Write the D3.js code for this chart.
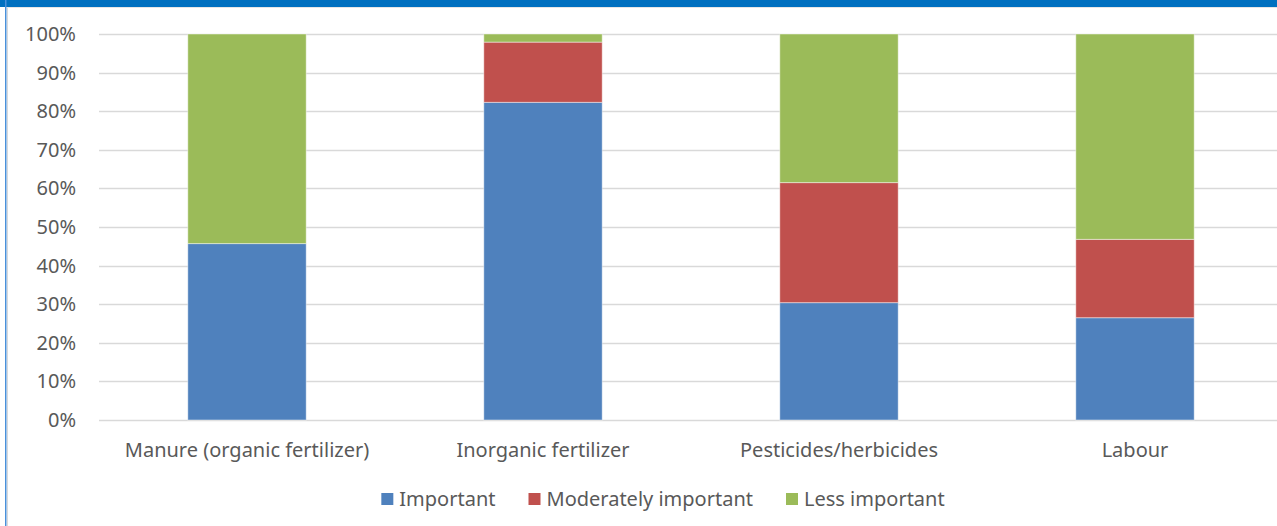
<!DOCTYPE html>
<html>
<head>
<meta charset="utf-8">
<script src="https://cdn.jsdelivr.net/npm/d3@7"></script>
<style>
  html, body { margin: 0; padding: 0; background: #fff; }
  svg { display: block; font-family: "Noto Sans", "Open Sans", sans-serif; }
</style>
</head>
<body>
<svg id="chart" width="1277" height="526"></svg>
<script>
// Stacked 100% shares of how important each input is rated
const categories = ["Manure (organic fertilizer)", "Inorganic fertilizer", "Pesticides/herbicides", "Labour"];
const seriesNames = ["Important", "Moderately important", "Less important"];
const important = [45.7, 82.3, 30.4, 26.5];
const moderatelyImportant = [0, 15.6, 31.1, 20.3];
const lessImportant = [54.3, 2.1, 38.5, 53.2];
const yTicks = [0, 10, 20, 30, 40, 50, 60, 70, 80, 90, 100];
const colors = ["#4F81BD", "#C0504D", "#9BBB59"];

const W = 1277, H = 526;
const margin = { top: 34, right: -6, bottom: 106, left: 99 };
const fontSize = "20px";
const textColor = "#595959";
const svg = d3.select("#chart");

// frame: blue band at top and thin blue rule on the left
svg.append("rect").attr("x", 0).attr("y", 0).attr("width", W).attr("height", 7).attr("fill", "#0070C0");
svg.append("rect").attr("x", 5).attr("y", 0).attr("width", 1.5).attr("height", H).attr("fill", "#4A90D9");
svg.append("line").attr("x1", 7.5).attr("x2", 7.5).attr("y1", 7).attr("y2", H).attr("stroke", "#d9d9d9").attr("stroke-width", 1);
svg.append("line").attr("x1", 7).attr("x2", W).attr("y1", 7.5).attr("y2", 7.5).attr("stroke", "#e6e6e6").attr("stroke-width", 1);

const x = d3.scaleBand()
  .domain(categories)
  .range([margin.left, W - margin.right])
  .paddingInner(0.6)
  .paddingOuter(0.3);

const y = d3.scaleLinear()
  .domain([0, 100])
  .range([H - margin.bottom, margin.top]);

// gridlines
svg.append("g")
  .selectAll("line")
  .data(yTicks)
  .join("line")
  .attr("x1", margin.left)
  .attr("x2", W - margin.right)
  .attr("y1", d => Math.round(y(d)) + 0.5)
  .attr("y2", d => Math.round(y(d)) + 0.5)
  .attr("stroke", "#d9d9d9")
  .attr("stroke-width", 1.5);

// y axis labels
const yAxis = d3.axisLeft(y)
  .tickValues(yTicks)
  .tickFormat(d => d + "%")
  .tickSize(0)
  .tickPadding(23);
const gy = svg.append("g").attr("transform", `translate(${margin.left},0)`).call(yAxis);
gy.select(".domain").remove();
gy.selectAll("text").attr("fill", textColor).style("font-size", fontSize).style("font-family", "Noto Sans");

// stacked bars
const rows = categories.map((c, i) => ({
  category: c,
  "Important": important[i],
  "Moderately important": moderatelyImportant[i],
  "Less important": lessImportant[i]
}));
const stacked = d3.stack().keys(seriesNames)(rows);

svg.append("g")
  .selectAll("g")
  .data(stacked)
  .join("g")
  .attr("fill", (d, i) => colors[i])
  .selectAll("rect")
  .data(d => d.filter(s => s[1] - s[0] > 0))
  .join("rect")
  .attr("x", d => x(d.data.category))
  .attr("width", x.bandwidth())
  .attr("y", d => y(d[1]))
  .attr("height", d => y(d[0]) - y(d[1]))
  .attr("stroke", "rgba(255,255,255,0.45)")
  .attr("stroke-width", 1);

// category axis labels
const xAxis = d3.axisBottom(x).tickSize(0).tickPadding(23);
const gx = svg.append("g").attr("transform", `translate(0,${H - margin.bottom})`).call(xAxis);
gx.select(".domain").remove();
gx.selectAll("text").attr("fill", textColor).style("font-size", fontSize).style("font-family", "Noto Sans");

// legend
const legend = svg.append("g").attr("transform", "translate(0,499)");
const items = legend.selectAll("g")
  .data(seriesNames)
  .join("g");
items.append("rect")
  .attr("width", 12).attr("height", 12).attr("y", -6)
  .attr("fill", (d, i) => colors[i]);
items.append("text")
  .attr("x", 18)
  .attr("dy", "0.35em")
  .attr("fill", textColor)
  .style("font-size", fontSize)
  .text(d => d);
let cursor = 0;
const offsets = [];
items.each(function () {
  offsets.push(cursor);
  const w = 18 + d3.select(this).select("text").node().getComputedTextLength();
  cursor += w + 33;
});
const total = cursor - 33;
const startX = 663 - total / 2;
items.attr("transform", (d, i) => `translate(${startX + offsets[i]},0)`);
</script>
</body>
</html>
